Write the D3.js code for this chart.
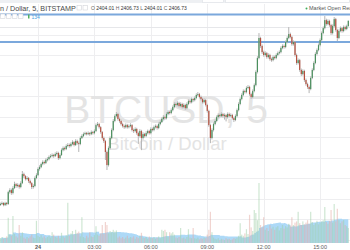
<!DOCTYPE html>
<meta charset="utf-8">
<html>
<head>
<title>BTCUSD 5</title>
<script src="https://d3js.org/d3.v7.min.js"></script>
<style>
  body { margin: 0; background: #fff; }
  svg { display: block; font-family: "Liberation Sans", Arial, sans-serif; }
</style>
</head>
<body>
<svg id="chart" width="350" height="250"></svg>
<script type="text/javascript">

// 5 minute candles, first one at 22:00 on the 23rd
var startTime = Date.UTC(2017, 4, 23, 22, 0);
var firstOpen = 2317.0;

var closes = [
  2317.3, 2317.8, 2316.8, 2317.8, 2317.3, 2323.1, 2324.1, 2322.7, 2325.1, 2327.0,
  2326.1, 2326.6, 2325.6, 2327.5, 2331.9, 2330.9, 2329.5, 2330.0, 2328.5, 2327.5,
  2325.6, 2326.1, 2330.0, 2331.4, 2334.4, 2335.3, 2336.8, 2337.8, 2337.3, 2338.8,
  2339.2, 2340.2, 2340.7, 2341.2, 2340.7, 2341.7, 2342.2, 2339.7, 2341.2, 2343.6,
  2344.6, 2344.1, 2345.6, 2346.1, 2345.6, 2346.6, 2347.5, 2346.1, 2348.0, 2347.0,
  2346.6, 2349.5, 2350.5, 2351.4, 2351.9, 2351.4, 2351.9, 2351.4, 2352.4, 2351.9,
  2352.9, 2355.8, 2356.3, 2354.8, 2352.4, 2349.5, 2348.0, 2342.7, 2336.3, 2344.6,
  2349.5, 2353.4, 2357.8, 2360.2, 2361.2, 2358.8, 2357.8, 2356.3, 2355.3, 2354.8,
  2355.8, 2354.8, 2355.3, 2355.8, 2353.4, 2352.9, 2353.9, 2351.9, 2350.5, 2352.9,
  2349.5, 2351.4, 2350.5, 2351.9, 2352.9, 2351.9, 2353.9, 2353.4, 2354.8, 2355.3,
  2354.4, 2356.3, 2357.3, 2358.8, 2359.7, 2359.2, 2361.2, 2362.2, 2361.7, 2363.1,
  2364.6, 2366.1, 2365.6, 2366.6, 2365.1, 2366.1, 2364.6, 2365.6, 2364.1, 2366.1,
  2367.5, 2367.0, 2368.5, 2368.0, 2369.0, 2370.5, 2370.9, 2369.5, 2368.5, 2367.0,
  2368.0, 2365.6, 2362.7, 2355.8, 2349.5, 2353.4, 2356.3, 2357.8, 2359.7, 2360.7,
  2360.2, 2361.2, 2360.2, 2360.7, 2359.7, 2361.2, 2360.2, 2360.7, 2359.2, 2358.3,
  2360.2, 2363.1, 2366.1, 2368.5, 2370.5, 2372.4, 2371.9, 2373.9, 2374.4, 2370.9,
  2369.5, 2372.4, 2375.3, 2381.7, 2388.5, 2398.3, 2394.4, 2391.4, 2390.0, 2390.9,
  2389.0, 2390.0, 2388.0, 2387.5, 2389.0, 2388.5, 2390.0, 2390.9, 2391.4, 2393.4,
  2394.4, 2393.9, 2396.3, 2398.3, 2400.2, 2398.8, 2395.3, 2396.3, 2390.0, 2386.1,
  2387.5, 2382.7, 2380.7, 2382.2, 2377.8, 2375.8, 2374.4, 2373.4, 2378.8, 2382.7,
  2386.1, 2390.5, 2392.4, 2394.8, 2397.3, 2400.7, 2403.1, 2407.0, 2405.1, 2406.6,
  2404.6, 2400.7, 2404.1, 2407.5, 2402.2, 2398.3, 2401.7, 2403.1, 2401.7, 2403.6,
  2402.7, 2404.01, 2406.73
];

var highs = [
  2318.0, 2318.5, 2318.2, 2318.4, 2318.3, 2323.8, 2325.0, 2324.8, 2326.0, 2328.2,
  2327.6, 2327.4, 2327.2, 2328.4, 2333.4, 2332.6, 2331.4, 2330.9, 2330.5, 2329.2,
  2328.0, 2326.9, 2330.8, 2332.3, 2335.2, 2336.2, 2337.5, 2338.6, 2338.5, 2339.6,
  2340.1, 2341.0, 2341.6, 2342.0, 2341.8, 2342.5, 2343.0, 2342.8, 2342.0, 2344.4,
  2345.4, 2345.3, 2346.4, 2347.0, 2346.8, 2347.4, 2348.4, 2348.0, 2348.9, 2348.7,
  2347.8, 2350.3, 2351.3, 2352.2, 2352.6, 2352.5, 2352.7, 2352.4, 2353.2, 2353.0,
  2353.7, 2356.6, 2357.3, 2356.9, 2355.3, 2352.9, 2350.2, 2348.6, 2343.4, 2345.4,
  2350.3, 2354.2, 2358.7, 2361.0, 2362.2, 2361.8, 2359.5, 2358.4, 2357.0, 2356.0,
  2356.6, 2356.4, 2356.1, 2356.7, 2356.3, 2354.1, 2354.7, 2354.5, 2352.6, 2353.8,
  2353.5, 2352.3, 2352.0, 2352.8, 2353.6, 2353.5, 2354.7, 2354.6, 2355.6, 2356.1,
  2356.0, 2357.1, 2358.1, 2359.6, 2360.6, 2360.4, 2362.0, 2363.0, 2362.9, 2363.9,
  2365.4, 2366.9, 2366.8, 2367.4, 2367.2, 2366.9, 2366.7, 2366.4, 2366.2, 2366.9,
  2368.3, 2368.2, 2369.3, 2369.2, 2369.8, 2371.3, 2371.9, 2371.5, 2370.2, 2369.1,
  2368.8, 2368.6, 2366.2, 2363.3, 2356.5, 2354.2, 2357.1, 2358.6, 2360.5, 2361.5,
  2361.4, 2362.0, 2361.8, 2361.5, 2361.3, 2362.0, 2361.9, 2361.5, 2361.3, 2359.9,
  2361.0, 2363.9, 2366.9, 2369.3, 2371.3, 2373.2, 2373.1, 2374.7, 2375.3, 2375.0,
  2371.6, 2373.2, 2376.1, 2382.5, 2389.4, 2400.7, 2398.9, 2395.1, 2392.1, 2391.8,
  2391.5, 2390.8, 2390.6, 2388.7, 2389.8, 2389.7, 2390.8, 2391.7, 2392.2, 2394.2,
  2395.2, 2395.1, 2397.1, 2399.1, 2403.6, 2400.9, 2399.4, 2397.1, 2396.9, 2390.7,
  2388.3, 2388.1, 2383.4, 2383.0, 2382.8, 2378.5, 2376.5, 2375.1, 2379.6, 2383.5,
  2386.9, 2391.3, 2393.2, 2395.6, 2398.1, 2401.5, 2403.9, 2409.0, 2407.7, 2407.4,
  2407.2, 2405.2, 2404.9, 2408.5, 2408.1, 2402.8, 2402.5, 2403.9, 2403.7, 2404.4,
  2404.3, 2404.8, 2406.73
];

var lows = [
  2316.4, 2316.8, 2316.2, 2316.3, 2316.6, 2316.9, 2322.4, 2321.8, 2322.0, 2324.6,
  2325.2, 2325.4, 2324.8, 2325.0, 2327.0, 2330.0, 2328.8, 2328.9, 2327.6, 2326.8,
  2324.6, 2324.8, 2325.5, 2329.4, 2330.9, 2333.6, 2334.8, 2336.2, 2336.6, 2336.8,
  2338.1, 2338.6, 2339.7, 2340.1, 2339.9, 2340.2, 2341.0, 2338.8, 2339.1, 2340.8,
  2343.0, 2343.4, 2343.6, 2345.0, 2344.8, 2345.0, 2346.0, 2345.4, 2345.6, 2346.3,
  2342.7, 2346.0, 2349.0, 2349.9, 2350.9, 2350.8, 2350.9, 2350.6, 2350.9, 2351.2,
  2351.3, 2352.4, 2355.2, 2354.1, 2351.6, 2348.7, 2347.1, 2338.8, 2333.9, 2335.6,
  2344.0, 2348.9, 2352.8, 2357.2, 2359.6, 2358.0, 2357.0, 2355.6, 2354.6, 2354.0,
  2354.2, 2354.1, 2354.2, 2354.7, 2352.7, 2352.0, 2352.3, 2351.1, 2346.6, 2349.8,
  2343.6, 2348.7, 2349.7, 2349.9, 2351.3, 2351.2, 2351.3, 2352.7, 2352.8, 2354.2,
  2353.6, 2353.8, 2355.7, 2356.8, 2358.2, 2358.5, 2358.6, 2360.6, 2361.0, 2361.1,
  2362.5, 2364.0, 2364.9, 2365.0, 2364.4, 2364.5, 2363.9, 2364.0, 2363.3, 2363.5,
  2365.5, 2366.3, 2366.4, 2367.3, 2367.4, 2368.4, 2369.9, 2368.8, 2367.8, 2366.3,
  2366.4, 2364.9, 2361.9, 2355.0, 2347.0, 2348.8, 2352.7, 2355.7, 2357.2, 2359.1,
  2359.5, 2359.6, 2359.4, 2358.5, 2357.6, 2359.0, 2359.5, 2359.6, 2358.5, 2357.3,
  2357.7, 2359.6, 2362.5, 2365.5, 2367.9, 2369.9, 2371.2, 2371.3, 2373.3, 2370.1,
  2368.6, 2368.9, 2371.8, 2374.7, 2381.0, 2387.9, 2393.5, 2390.5, 2389.2, 2389.3,
  2388.2, 2388.3, 2387.2, 2386.7, 2386.9, 2387.8, 2387.9, 2389.4, 2390.3, 2390.8,
  2392.8, 2393.1, 2393.3, 2395.7, 2397.7, 2398.1, 2394.5, 2394.6, 2389.2, 2385.2,
  2385.4, 2381.8, 2379.8, 2380.0, 2376.9, 2375.0, 2373.5, 2371.4, 2372.8, 2378.2,
  2382.1, 2385.5, 2389.8, 2391.8, 2394.2, 2396.7, 2400.1, 2402.5, 2404.3, 2404.5,
  2403.8, 2399.8, 2400.0, 2403.5, 2401.4, 2396.8, 2397.7, 2401.1, 2400.9, 2401.1,
  2402.0, 2402.1, 2404.01
];

var volumes = [
  8, 10, 7, 9, 11, 42, 14, 12, 45, 15,
  11, 9, 30, 12, 18, 9, 7, 10, 8, 11,
  14, 9, 8, 37, 12, 10, 13, 9, 11, 8,
  10, 12, 9, 18, 14, 10, 9, 12, 8, 17,
  11, 9, 13, 67, 12, 16, 20, 14, 22, 17,
  19, 11, 43, 10, 8, 12, 9, 18, 11, 10,
  13, 28, 14, 12, 16, 30, 15, 35, 30, 16,
  20, 18, 22, 19, 21, 9, 11, 8, 10, 7,
  9, 12, 8, 10, 9, 11, 7, 10, 8, 12,
  17, 9, 8, 10, 7, 11, 9, 8, 10, 7,
  9, 11, 8, 22, 20, 22, 18, 10, 18, 16,
  18, 14, 9, 8, 10, 25, 8, 9, 7, 10,
  23, 9, 8, 25, 8, 7, 9, 6, 8, 7,
  9, 8, 14, 22, 52, 18, 9, 7, 6, 8,
  5, 7, 6, 5, 8, 6, 7, 5, 6, 8,
  7, 9, 12, 33, 14, 12, 16, 23, 15, 47,
  26, 20, 55, 50, 38, 100, 30, 26, 43, 22,
  25, 20, 30, 24, 27, 22, 26, 28, 21, 25,
  30, 24, 28, 26, 32, 29, 43, 30, 34, 36,
  52, 33, 30, 36, 31, 34, 38, 32, 52, 35,
  30, 33, 37, 31, 34, 36, 38, 60, 35, 32,
  37, 55, 34, 65, 36, 57, 38, 33, 36, 38,
  30, 28, 25
];

// the two blue support / resistance lines
var levels = [2409.8, 2396.3];
var volumeMaLength = 20;

var symbolTitle = "n / Dollar, 5, BITSTAMP";
var watermarkTitle = "BTCUSD, 5";
var watermarkSub = "Bitcoin / Dollar";
var marketStatus = "Market Open";
var marketFeed = "Realtime";
var volumeLegend = "134";

var width = 350, height = 250;
var svg = d3.select("#chart");

// build the candle rows
var candles = closes.map(function(c, i) {
  return {
    time: new Date(startTime + i * 5 * 60000),
    open: i == 0 ? firstOpen : closes[i - 1],
    high: highs[i],
    low: lows[i],
    close: c,
    volume: volumes[i]
  };
});

// volume moving average (the blue area)
candles.forEach(function(d, i) {
  var from = Math.max(0, i - volumeMaLength + 1);
  d.volMa = d3.mean(volumes.slice(from, i + 1));
});

var x = d3.scaleUtc()
  .domain([candles[0].time, candles[candles.length - 1].time])
  .range([0.4, 348.3]);

var y = d3.scaleLinear()
  .domain([2300, 2400])
  .range([239.5, 34.5]);

var yVol = d3.scaleLinear()
  .domain([0, 100])
  .range([243, 183]);

var upColor = "#4a8f5d", downColor = "#b5503f", wickColor = "#b4b4b4";

// grid
var grid = svg.append("g");
grid.selectAll("line.h")
  .data(d3.range(2300, 2411, 10))
  .enter().append("line")
  .attr("x1", 0).attr("x2", width)
  .attr("y1", function(d) { return Math.round(y(d)) + 0.5; })
  .attr("y2", function(d) { return Math.round(y(d)) + 0.5; })
  .attr("stroke", "#eeeef0");

var hourTicks = x.ticks(d3.utcHour.every(3));
grid.selectAll("line.v")
  .data(hourTicks)
  .enter().append("line")
  .attr("x1", function(d) { return Math.round(x(d)) + 0.5; })
  .attr("x2", function(d) { return Math.round(x(d)) + 0.5; })
  .attr("y1", 4).attr("y2", 243)
  .attr("stroke", "#eeeef0");

grid.append("line")
  .attr("x1", 0).attr("x2", width)
  .attr("y1", 27.5).attr("y2", 27.5)
  .attr("stroke", "#e6e7ea");

// watermark
svg.append("text")
  .attr("x", 166).attr("y", 123)
  .attr("text-anchor", "middle")
  .attr("font-size", 39)
  .attr("fill", "#e4e4e4")
  .text(watermarkTitle);
svg.append("text")
  .attr("x", 167).attr("y", 150)
  .attr("text-anchor", "middle")
  .attr("font-size", 18.5)
  .attr("fill", "#e4e4e4")
  .text(watermarkSub);

// volume MA area
var area = d3.area()
  .x(function(d) { return x(d.time); })
  .y0(yVol(0))
  .y1(function(d) { return yVol(d.volMa); })
  .curve(d3.curveStepAfter);

svg.append("path")
  .datum(candles)
  .attr("d", area)
  .attr("fill", "#a4d5f6")
  .attr("opacity", 0.9);

// volume bars
svg.append("g").selectAll("rect")
  .data(candles)
  .enter().append("rect")
  .attr("x", function(d) { return x(d.time) - 0.6; })
  .attr("width", 1.2)
  .attr("y", function(d) { return yVol(d.volume); })
  .attr("height", function(d) { return yVol(0) - yVol(d.volume); })
  .attr("fill", function(d) { return d.close >= d.open ? "#9fcfa8" : "#e3aaa2"; })
  .attr("opacity", 0.5);

// blue horizontal levels
svg.append("g").selectAll("line")
  .data(levels)
  .enter().append("line")
  .attr("x1", 0).attr("x2", width)
  .attr("y1", function(d) { return y(d); })
  .attr("y2", function(d) { return y(d); })
  .attr("stroke", "#7ba8dc")
  .attr("stroke-width", 2);

// candles
var cg = svg.append("g").selectAll("g")
  .data(candles)
  .enter().append("g");

cg.append("line")
  .attr("x1", function(d) { return x(d.time); })
  .attr("x2", function(d) { return x(d.time); })
  .attr("y1", function(d) { return y(d.high); })
  .attr("y2", function(d) { return y(d.low); })
  .attr("stroke", wickColor)
  .attr("stroke-width", 1);

cg.append("rect")
  .attr("x", function(d) { return x(d.time) - 0.6; })
  .attr("width", 1.2)
  .attr("y", function(d) { return y(Math.max(d.open, d.close)); })
  .attr("height", function(d) { return Math.max(1, Math.abs(y(d.open) - y(d.close))); })
  .attr("fill", function(d) { return d.close >= d.open ? upColor : downColor; });

// time axis labels
var fmt = d3.utcFormat("%H:%M");
svg.append("g").selectAll("text")
  .data(hourTicks)
  .enter().append("text")
  .attr("x", function(d) { return x(d); })
  .attr("y", 249)
  .attr("text-anchor", "middle")
  .attr("font-size", 5.5)
  .attr("fill", "#5a5a5a")
  .attr("font-weight", function(d) { return d.getUTCHours() == 0 ? "bold" : "normal"; })
  .text(function(d) { return d.getUTCHours() == 0 ? d3.utcFormat("%d")(d) : fmt(d); });

// top toolbar strip
svg.append("rect")
  .attr("x", 0).attr("y", 0).attr("width", width).attr("height", 3)
  .attr("fill", "#eef0f3");
svg.append("rect")
  .attr("x", 202.5).attr("y", -2).attr("width", 21).attr("height", 4.5)
  .attr("fill", "#fff").attr("stroke", "#dcdfe4").attr("stroke-width", 0.6);
svg.append("rect")
  .attr("x", 225.5).attr("y", -2).attr("width", 124).attr("height", 4.5)
  .attr("fill", "#fff").attr("stroke", "#dcdfe4").attr("stroke-width", 0.6);

// legend line with the last candle
var last = candles[candles.length - 1];
svg.append("text")
  .attr("x", 0).attr("y", 10.5)
  .attr("font-size", 7.2)
  .attr("fill", "#4a4a4a")
  .text(symbolTitle + " -");

var icons = svg.append("g").attr("fill", "#fff").attr("stroke", "#c9ccd2").attr("stroke-width", 0.5);
[77, 83].forEach(function(ix) {
  icons.append("rect").attr("x", ix).attr("y", 5.5).attr("width", 4.5).attr("height", 4.5);
});
[0.5, 6.5, 12.5, 18.5].forEach(function(ix) {
  icons.append("rect").attr("x", ix).attr("y", 14).attr("width", 4.5).attr("height", 4.5);
});

var ohlc = svg.append("text")
  .attr("x", 91).attr("y", 10)
  .attr("font-size", 5)
  .attr("fill", "#4a4a4a");
[["O", last.open], ["H", last.high], ["L", last.low], ["C", last.close]].forEach(function(p) {
  ohlc.append("tspan").attr("fill", "#666").text(p[0] + " ");
  ohlc.append("tspan").attr("fill", "#333").text(d3.format(".2f")(p[1]) + " ");
});

svg.append("rect")
  .attr("x", 28).attr("y", 14.5).attr("width", 1.5).attr("height", 4)
  .attr("fill", "#53b15f");
svg.append("text")
  .attr("x", 31.5).attr("y", 18.5)
  .attr("font-size", 5)
  .attr("fill", "#4b9fe0")
  .text(volumeLegend);

// market status; the reference cuts it at the right edge
svg.append("circle")
  .attr("cx", 306.5).attr("cy", 8.5).attr("r", 1)
  .attr("fill", "#3fae5a");
svg.append("text")
  .attr("x", 309).attr("y", 10.3)
  .attr("font-size", 5.5)
  .attr("fill", "#555")
  .text(marketStatus + "   " + marketFeed);

</script>
</body>
</html>
